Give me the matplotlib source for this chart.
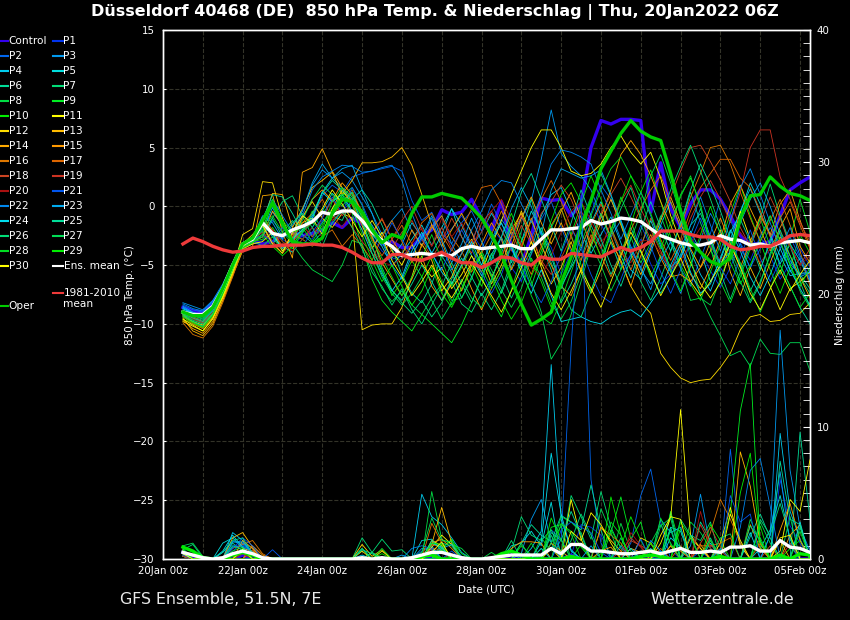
import pandas as pd
import matplotlib
matplotlib.use('Agg')
import matplotlib.pyplot as plt
import matplotlib.dates as mdates
from matplotlib.lines import Line2D
from matplotlib.ticker import MultipleLocator

times = pd.date_range('2022-01-20 12:00', periods=64, freq='6h')
label_days = pd.date_range('2022-01-20', '2022-02-05', freq='2D')
grid_days = pd.date_range('2022-01-20', '2022-02-05', freq='1D')

# 850 hPa temperature, 6-hourly
control_temp = [-8.6,-8.9,-9,-8.2,-7,-5.2,-3.4,-3,-3.2,-3,-2.5,-2.2,-2.5,-2.3,-2,-1.4,-1.8,-1,-1.5,-2,-3.2,-3,-3.5,-3.5,-2.5,-2,-0.3,-0.7,-0.5,0.6,-1,-2,0.4,-3.5,-5,-2.5,0.7,0.5,0.6,-0.8,0.2,5,7.3,7,7.4,7.4,7.3,-0.5,3.7,-0.2,-1.8,0.2,1.4,1.4,0.6,-0.8,-2.5,-3.2,-3.2,-3,-0.8,1.4,2,2.5]
oper_temp = [-9,-9.3,-9.3,-8.6,-7,-5,-3.2,-2.7,-1.2,0.3,-1.5,-3,-3.2,-3.2,-2.7,-0.6,0.6,0.4,-0.5,-2,-3.1,-2.4,-2.7,-0.6,0.8,0.8,1.1,0.9,0.7,-0.1,-1,-2.4,-4.1,-6.3,-8.3,-10.1,-9.6,-9,-6.5,-4.3,-1.7,0.5,3.2,4.7,6.2,7.3,6.4,5.9,5.6,2.8,-0.4,-3,-3.9,-4.7,-5,-4.4,-1,0.9,1,2.5,1.7,1.1,0.9,0.5]
mean_temp = [-9,-9.2,-9.2,-8.5,-7,-5,-3.2,-2.8,-1.4,-2.3,-2.5,-2,-1.7,-1.3,-0.5,-0.7,-0.4,-0.4,-1.2,-2.2,-2.9,-3.4,-4.2,-4.1,-4,-4.1,-4.1,-4.2,-3.6,-3.4,-3.6,-3.5,-3.4,-3.3,-3.6,-3.6,-2.8,-2,-2,-1.9,-1.8,-1.2,-1.5,-1.3,-1,-1.1,-1.3,-1.9,-2.5,-2.8,-3.1,-3.3,-3.3,-3.1,-2.5,-2.8,-2.9,-3.3,-3.2,-3.4,-3.1,-3,-2.9,-3.1]
clim_temp = [-3.2,-2.7,-3,-3.4,-3.7,-3.9,-3.8,-3.5,-3.4,-3.4,-3.3,-3.3,-3.3,-3.2,-3.3,-3.3,-3.5,-3.9,-4.4,-4.8,-4.8,-4.1,-4.1,-4.5,-4.6,-4.3,-3.9,-4.4,-4.8,-4.8,-5.2,-4.8,-4.3,-4.4,-4.8,-5,-4.3,-4.5,-4.5,-4,-4.1,-4.2,-4.3,-3.9,-3.5,-3.8,-3.5,-3,-2.1,-2.1,-2.1,-2.4,-2.6,-2.6,-2.8,-3.4,-3.7,-3.6,-3.4,-3.4,-3,-2.5,-2.4,-2.5]

p1_temp = [-8.8,-9.2,-9.6,-8.8,-7.2,-5.4,-3.4,-3.2,-2.9,-2.2,-2.8,-3.4,-2.5,-2.8,-1.2,-1.5,-0.4,0.5,-1.2,-2.6,-3.8,-4.5,-4.2,-3.5,-2.9,-1.5,-2.8,-1.9,-0.8,-2.2,-3.6,-1.8,-2.9,-5.2,-6.4,-4.1,-2.2,-3.5,-5.8,-3.9,-1.2,0.8,-1.5,-3.2,-5.1,-4.2,-2.8,-4.9,-6.6,-5.8,-4.2,-2.6,-3.8,-5.5,-6.9,-5.2,-3.1,-4.6,-2.5,-4.2,-6.2,-4.9,-3.6,-5.1]
p2_temp = [-8.4,-8.8,-9,-8.2,-6.9,-5,-3.2,-2.8,-2.6,-1.2,-2.2,-2.9,-2.3,-1.1,0.9,1.8,1.2,2.5,2.8,3,3.2,3.4,3,0.5,-1.2,-0.5,-2.3,-3.2,-1.4,-0.4,-2.1,0.2,-1.5,-2.8,-0.9,-2.6,-1.1,0.4,-1.8,-3.9,-2.2,-0.6,1.8,0.6,-1.4,-3.6,-5.2,-3.4,-1.6,-3.1,-5.3,-6.8,-4.4,-2.3,0.6,-1.1,-3.5,-5.2,-3.6,-1.8,-3.2,-4.9,-5.8,-5.6]
p3_temp = [-8.2,-8.5,-8.8,-8,-6.6,-4.8,-3.1,-2.6,-1.8,-0.5,-1.6,-2.4,-0.4,1.8,3.1,2.4,2.9,2.2,0.8,-0.6,-2.4,-1.2,-0.2,-2.1,-3.3,-1.9,-0.8,-3.2,-4.8,-3.1,-0.9,-2.8,-1.1,-2.4,-1,0.5,4,8.2,4.5,3.4,2.6,1.4,-0.8,-2.6,-1.2,-3.8,-5.2,-7.1,-4.2,-5.6,-7.4,-5.1,-2.8,-0.6,-2.2,-4.6,-3.2,-5.3,-2.6,-0.8,-2.9,-5.6,-4.4,-6.2]
p4_temp = [-8.6,-9.1,-9.4,-8.6,-7,-5.1,-3.3,-2.9,-2.1,-0.1,-1.8,-2.7,-2,-0.8,1.2,2.4,1.6,0.8,-0.4,-1.6,-3,-4.4,-3.2,-1.4,-2.6,-4,-2.4,-0.2,-1.6,-3.4,-2.2,-0.6,-2,-3.6,-5.2,-3.8,-0.8,1,1.6,-0.4,-2.2,-4,-2.4,-0.9,-3.1,-5.4,-6.2,-3.9,-1.6,0.4,-1.8,-3.8,-5.8,-7.2,-5,-2.8,-0.4,1.5,-0.6,-2.4,-4.2,-5.9,-5.7,-5.6]
p5_temp = [-9.4,-9.8,-10.2,-9.2,-7.4,-5.4,-3.6,-3.2,-1.4,-2.6,-3.4,-3.9,-2.8,-1.8,-0.4,1.1,0.4,1.2,-0.6,-2.4,-3.4,-5.1,-4,-2.8,-1.6,-3.3,-1.8,-0.2,-2.6,-4.2,-5.9,-4.1,-2.6,-4.8,-3,-0.4,-2.1,-4.3,-6.8,-5.2,-3.6,-1.4,0.4,-2,-4.2,-6.1,-3.4,-1.2,-3.4,-5.2,-4.4,-2.1,-3.8,-6.4,-4.6,-2.2,-0.6,2,0.2,-2.5,-4.9,-3.2,-4.6,-6.4]
p6_temp = [-9.2,-9.6,-9.9,-9,-7.3,-5.3,-3.4,-3,-1.6,-3.2,-2.2,-1.2,-2.4,-3.1,-2.2,-0.8,-1.2,0.6,1.4,0.2,-1.6,-3.6,-5.8,-7.4,-8.2,-6.6,-4.2,-5.6,-7.8,-6,-4.1,-5.8,-7.4,-5.2,-3,-1.2,-3.2,-5.4,-8.2,-6.6,-4.6,-1.6,-3.4,-5.8,-4,-1.8,-3.9,-5.8,-7.4,-6,-4.1,-1.6,-0.6,-2.8,-5.2,-3.1,-1.1,-3,-5.4,-2.9,-0.9,-3.4,-5.8,-7]
p7_temp = [-9,-9.4,-9.7,-8.8,-7.1,-5.2,-3.3,-2.9,-2.4,-1,0.4,0.9,-0.8,-2.6,-1.4,-0.2,0.9,1.6,0.1,-2.4,-5.2,-7.1,-8.2,-9.1,-8,-9.4,-8.2,-6.4,-8.3,-9,-7.4,-8.8,-7.2,-4.6,-2.1,0.6,-2.4,-4.8,-7,-5,-2.6,0.4,2.8,0.9,-1.4,-4.2,-6.4,-8,-6.1,-3.8,-1.6,1.2,-1.4,-3.6,-5.6,-7.9,-5.6,-3.3,-1,1.9,-0.8,-3.1,-6,-7.4]
p8_temp = [-8.9,-9.3,-9.5,-8.7,-7,-5.2,-3.4,-2.9,-3.4,-2.6,-3.8,-3.2,-4.4,-5.4,-5.9,-6.4,-5,-2.9,-3.2,-5.2,-7,-8.1,-7.2,-8.4,-9.2,-7.8,-6.6,-8,-7.8,-6.2,-3.8,-5.4,-7.1,-8.6,-7,-4.4,-6,-8.2,-9.6,-8.1,-5.8,-3.2,-5,-7.2,-5.4,-2.6,-4.8,-3.1,-0.8,-3,-5.2,-8,-7.8,-8.4,-6.2,-3.8,-5.6,-8,-6.4,-4.2,-2.1,-5,-7.2,-8.6]
p9_temp = [-9.1,-9.6,-10,-9,-7.3,-5.3,-3.3,-3,-2.8,-1.8,-3,-3.6,-2.2,-0.4,-2.1,-0.6,0.8,-0.6,-3.4,-6.2,-8,-9,-9.8,-10.6,-9.2,-10,-10.8,-11.6,-10.1,-8.2,-6,-7.9,-9.4,-7.1,-4.4,-6.8,-4.2,-1.8,-0.2,-2.4,-5,-7.2,-4.8,-2.2,0.8,-1.2,-3.8,-6,-4.2,-2,1,2.4,0.2,-3.6,-6.4,-8.2,-6,-3.6,-1,-3.4,-5.8,-2.8,0.6,-2.2]
p10_temp = [-9.6,-10,-10.4,-9.4,-7.6,-5.6,-3.7,-3.1,-2.4,-3.4,-4.2,-3.4,-2,-1.2,-0.6,0.4,1.2,0.4,-1.4,-3.4,-5.4,-7.6,-6.4,-4.6,-6,-4.2,-6.4,-8.4,-7,-5,-6.8,-4.4,-2.6,-0.6,-2.8,-4.6,-6.4,-8.6,-5.8,-2.4,0.2,2.6,0.6,-1.8,-4,-1.6,1.2,3.1,0.4,-2.6,-5,-6.6,-8,-5.6,-3.2,-0.6,1.8,-0.8,-3,-5.4,-7.4,-5.2,-2.4,-4]
p11_temp = [-9.8,-10.2,-10.6,-9.6,-7.8,-5.8,-3.6,-3.2,-3,-2.2,-3.8,-2.6,-1.4,-1,-2.4,-0.2,1.4,0.2,-1.6,-3.6,-2.2,-3.8,-5,-3.2,-4.9,-6,-5.2,-7,-5.8,-4.2,-5.6,-3.4,-1.2,1,3,5,6.5,6.5,5,3,2.6,2.8,3.6,5,6,4.6,3.6,4.6,2.4,-0.8,-3,-4.8,-6.6,-7.8,-6.5,-3.8,-0.4,-2.8,-5,-6.8,-8.8,-7,-6.4,-5.6]
p12_temp = [-9.3,-9.8,-10.1,-9.2,-7.5,-5.4,-2.4,-1.9,2.1,2,-1,-3.2,-0.9,0.4,-1,-1.8,-0.6,-1,-10.5,-10.1,-10,-10,-8.6,-6,-3.2,-4.6,-7.2,-6,-4,-2.8,-4.4,-6.6,-5,-2.6,-0.4,-2.4,-4.8,-6.6,-5.2,-3,-5.6,-7.4,-5.4,-3,-4.6,-6.8,-8.2,-9.1,-12.5,-13.7,-14.6,-15,-14.8,-14.7,-13.7,-12.5,-10.5,-9.4,-9.2,-9.8,-9.7,-9.2,-9.1,-8.2]
p13_temp = [-9.5,-10.6,-11,-10,-8,-5.8,-3.2,-2.4,-1.4,1.1,1,-1.8,-0.2,1.6,2.2,2.9,1,2.2,3.7,3.7,3.8,4.2,5,3.5,1,-1.6,-3.4,-2,-0.6,-2.2,-4.2,-6,-4.4,-2,-0.6,-3,-5,-2.6,-0.4,1.2,-1,-3.4,-1.4,0.6,-1.6,-4,-5.8,-3.6,-1.2,0.8,-1.4,-3.6,-5.2,-3.8,-2,-5.6,-7.6,-5.2,-7,-4.8,-2.6,-4.2,-6,-7.8]
p14_temp = [-9.7,-10.4,-10.8,-9.8,-8,-5.9,-3.8,-3.4,0.9,1,-2.2,-4.4,2.9,3.3,4.9,3,1.6,0.4,-0.8,-2.6,-4.8,-6.2,-7.6,-6.2,-4.2,-6.8,-8,-6.6,-5,-7,-8.8,-7,-5.4,-3.4,-1,0.8,-1.4,-3.2,-1.4,-3.6,-5.4,-3.2,-0.9,1.4,4.4,5.6,4.4,2.6,0.4,-1.6,-3.6,-5.8,-7,-5.2,-2.8,0.2,1.8,-0.2,-2,-3.8,-1.8,-0.2,-3.4,-4.8]
p15_temp = [-9.2,-9.9,-10.3,-9.4,-7.6,-5.5,-3.5,-3,-2.6,-0.4,-1.6,-2.4,-1,0.6,1.4,0.5,2,1,-0.4,-2.2,-1.1,-2.8,-4.2,-2,-3.4,-1.6,-3,-5.2,-7.2,-5,-3.2,-1.4,-2.8,-5.4,-3.6,-1,-3.4,-5,-6.8,-7.6,-5.4,-2.8,-0.6,-2.6,-4.8,-6.8,-4.2,-2.4,-4.4,-6,-5.8,-6.4,-5.2,-3,-1,-3.2,-5.2,-3,-0.8,-2.4,0.2,1.4,-1.2,-3.4]
p16_temp = [-9.9,-10.9,-11.2,-10.2,-8.2,-6,-3.6,-3.1,-1.2,-2,-3.6,-2.4,-2.8,-3.4,-2.6,-2,-3.4,-2.4,-3.4,-4.6,-2.6,-1.2,-3,-4.8,-3.4,-1.8,-0.8,-2.6,-3.8,-5.6,-4,-2.4,-0.4,-2.2,-4,-5.8,-3.4,-1.6,-0.2,-2.6,-4.6,-2.4,-4.2,-6,-4,-2,-0.2,1.4,2.6,0.4,-1.8,0.8,2.8,5,5.2,3.6,1.2,-1,-3,-1.2,0.6,-1.6,-3.8,-6.8]
p17_temp = [-9.4,-10,-10.4,-9.4,-7.4,-5.4,-3.4,-2.8,-0.9,-2,-3.4,-2.6,-1.4,-0.6,0.6,-1,0.4,1.4,-0.6,-2.8,-4.2,-2.8,-1.6,-3.2,-1.4,-0.6,-2.4,-3.8,-2,-0.2,1.6,1.8,0.2,-1.8,-3.4,-1.2,0.6,2.2,0.4,-1.8,-3.4,-1.6,0.2,-1.8,-3.8,-5.4,-3.4,-1,-2.8,-4.6,-2.8,-0.4,1.6,2.8,4,4,2.4,1.6,-0.4,-2.6,-1,0.4,-1.6,-3.6]
p18_temp = [-8.9,-9.4,-9.8,-9,-7.2,-5.2,-3.2,-2.8,-1.6,-3,-4,-3,-2,-1.4,-0.4,-1.2,-0.4,-1.8,-3,-4,-5,-3.6,-2.2,-1.2,-2.8,-4.4,-3,-1,-2.6,-4,-1.4,-0.4,-2,-3.8,-1.6,-3.2,-0.6,0.4,1.8,0.6,-1.4,-3,-0.6,1,2.4,0.8,-1,-2.8,-1,0.8,3,5,5.2,3.8,2.2,0.4,-1.8,-3.4,-1.4,0.8,-1,-3.4,-5,-3.6]
p19_temp = [-9,-9.5,-9.9,-9,-7.2,-5.3,-3.4,-2.9,-2.2,-3.1,-3.6,-2.6,-1.6,-2.6,-1,0.6,-0.8,0.2,-1.6,-2.4,-1,-2.8,-1.2,0,-2,-3.4,-1.8,-3.6,-5,-3.2,-0.8,-2.4,-4.2,-2.6,-0.8,-2.4,-4.6,-5.8,-4.4,-2.6,-0.4,-2,-3.6,-1.4,0.4,1.8,-0.2,-2,-3.8,-5.4,-3.2,-1,0.8,2.2,0.6,-1.4,1.2,5,6.5,6.5,2.5,0.6,-1.4,-3]
p20_temp = [-9,-9.6,-10,-9,-7.2,-5.2,-3.3,-3,-2.6,-2,-3,-3.8,-2.8,-1.8,-2.6,-0.8,-1.8,-0.4,-2,-3.6,-4.8,-5,-4.4,-3.2,-1.8,-3.4,-1,-2.6,-1.4,-3.2,-2.2,-0.4,0.6,-1.2,-3.2,-5.2,-6,-4.2,-2.2,-0.4,0.4,-1.2,-3,-2.2,-3.8,-4.8,-3,-2.8,-4,-5.4,-4.6,-3.2,-1.8,-3.4,-4.6,-3.6,-2.2,-3.4,-4.8,-3.6,-2.2,-3.4,-5,-4.2]
p21_temp = [-8.7,-9.2,-9.6,-8.8,-7.1,-5.1,-3.2,-2.9,-2.4,-3,-1.8,-2.8,-3.4,-2.2,-1,0.8,-0.6,1.6,0.2,-1.8,-3.2,-1.4,-2.8,-4.2,-2.6,-4,-5.4,-3.6,-2,-3.6,-5.6,-7.4,-5.8,-3.4,-5,-6.8,-8.2,-6.4,-4,-1.8,-3.6,-5.8,-7.6,-8.2,-6.2,-4,-1.6,-3.4,-5.6,-7.4,-5.4,-3,-1,-3.2,-5.2,-6.6,-4.4,-2,-4.4,-6.4,-4.6,-2.6,-4.4,-6.2]
p22_temp = [-8.3,-8.7,-8.9,-8.1,-6.7,-4.9,-3.2,-2.6,-1,0.6,-0.8,-2.2,-0.8,1.4,2.5,3,3.5,3.4,2.9,3,3.3,3.5,2.2,-0.6,-2.8,-1,-3.4,-5.4,-4,-2,-0.4,1.4,2.2,2,0.2,-1.4,1,3.6,4.8,4.6,4.2,3.6,1.4,-0.6,-2.8,-0.8,1.2,-0.8,-3.2,-5.6,-3.6,-1.6,0.8,-1.6,-3.8,-1.2,1.6,3.2,1,-1.4,-3.6,-1.8,-4.2,-5.6]
p23_temp = [-8.5,-9,-9.3,-8.5,-6.9,-5,-3.1,-2.7,-0.8,-1.4,-2.8,-1.6,-0.4,2,3.6,2.4,3.2,3.5,1.4,-0.6,-3,-5,-6.2,-4.2,-2.6,-0.8,-2.8,-4.8,-3.2,-1,-3,-4.6,-2.6,-0.2,1.6,0,-2.4,1.4,3.2,2.8,2.4,2.6,3.1,1,-1.2,-3.4,-5.4,-6.6,-4.6,-3,-4.4,-2.4,-0.2,-2.6,-5,-3.8,-1.4,0.6,2,0,-2.4,-4.6,-6,-5.6]
p24_temp = [-8.7,-9.1,-9.4,-8.6,-7,-5,-3.2,-2.8,-1.4,-2.4,-3.6,-2.8,-2,-1,1.2,0.4,1,-0.4,-2,-4,-5.8,-7.2,-6,-3.8,-2.2,-4,-5.6,-6.6,-5,-3,-5,-3,-1.4,-3.4,-5.6,-7.4,-5.4,-7.6,-9.8,-9.6,-9.4,-9.8,-10,-9.4,-9,-8.8,-9.4,-8.2,-7,-5,-3.2,-5.6,-7.4,-6.6,-4.4,-2,-3.8,-6,-7.6,-5.8,-3.6,-5.4,-7,-8.4]
p25_temp = [-9.1,-9.5,-9.8,-8.9,-7.2,-5.2,-3.4,-2.9,-1.2,1,0.8,-0.6,-2.2,-0.6,1.1,2.2,1.4,0.6,-1.4,-3.4,-5.6,-7.2,-8,-6.6,-5,-6.4,-8,-6.2,-4.4,-6,-7.6,-6.2,-4,-1.6,1.2,2.8,0.6,-1.6,-3.8,-1.4,1.4,-0.8,-2.8,-5,-6.8,-4.4,-2,0.4,-1.8,-3.8,-1.4,1.4,3.6,1.8,-0.4,-2.8,-5,-7.2,-5.4,-3,-5,-6.8,-8.6,-10]
p26_temp = [-9.2,-9.7,-10,-9.1,-7.3,-5.3,-3.5,-3,-2.6,-1,-2.6,-1.4,-0.6,-1.8,-3.4,-1.4,-0.4,-1.8,-3.6,-5.6,-6.8,-8.4,-7,-8.8,-10,-8.4,-6.8,-4.8,-6.6,-8.2,-6.2,-4,-5.8,-7.8,-6,-4,-1.8,-4,-6.6,-8.8,-9.4,-7.2,-4.8,-2.4,-0.2,1.6,-1,-3.2,-1,1.4,3.4,5.2,3,0.6,-1.8,-4,-6.4,-8.2,-6.6,-4,-2,-4.2,-6.4,-8.6]
p27_temp = [-9.3,-9.8,-10.2,-9.2,-7.5,-5.4,-3.5,-3.1,-1.8,0.2,-1.6,-2.8,-1.2,0.6,1.8,1,0,1.2,-1,-4,-6,-7.4,-8.4,-7.4,-6,-8,-9.6,-8.2,-6.2,-7.8,-8.6,-6.4,-3.6,-1.4,-3.8,-6.4,-9,-13,-11.6,-9.2,-6.4,-3.4,-0.6,-3,-5.4,-2.8,-0.6,2.6,4.4,2,-0.8,-4.4,-7.6,-9.4,-11,-12.7,-12.3,-13.6,-11.3,-12.5,-12.6,-11.6,-11.6,-14]
p28_temp = [-8.8,-9.3,-9.6,-8.7,-7.1,-5.1,-3.3,-2.9,-2,-0.8,-2.2,-3.2,-2.2,-1.4,-2,0.4,1.6,0.8,-1,-3,-4.4,-6,-7.6,-6,-4.4,-2.4,-4.6,-6.8,-5.2,-3.4,-5.2,-7,-5.4,-3.2,-5.2,-7.6,-9.4,-10,-8,-5.6,-3.2,-0.8,1.4,3.2,4.2,2.6,0.6,-1.8,-3.6,-1.4,0.8,2.6,-0.2,-3,-5.2,-3,-4.8,-7,-9,-7,-5,-6.8,-8.6,-7.4]
p29_temp = [-9.4,-9.9,-10.3,-9.3,-7.5,-5.5,-3.5,-3.1,-2.4,0.6,-1.2,-2.2,-1.8,-3,-1.6,-0.4,1,0.2,-2.4,-4.6,-6.4,-5,-6.8,-8.4,-7.2,-5.2,-7.4,-8.6,-7,-5.4,-4,-6,-8,-9.6,-8.2,-6,-3.8,-1.2,1,2,0.4,-2,-4.4,-2,0.4,2.6,1.2,-0.6,-3,-5.4,-7.2,-5,-2.4,0,-2.4,-4.8,-6.6,-5,-3,-0.8,-3,-5,-6.8,-5.2]
p30_temp = [-9.6,-10.1,-10.6,-9.5,-7.7,-5.6,-3.4,-2.8,-1.6,-3.2,-4,-2.2,-0.8,-1.4,-0.2,1.4,0.2,-1.2,-2.6,-1.2,-2.6,-4.6,-6,-7.6,-6.4,-5,-6.6,-7.8,-6.4,-4.8,-6.2,-7.6,-9,-7.2,-5.2,-3,-5.2,-7.4,-8.8,-7.2,-5.4,-7,-8.6,-6.4,-4.2,-2.2,-3.8,-5.6,-7.6,-6,-4.4,-6.4,-7.6,-6.4,-5,-3.2,-5.2,-7.4,-8.8,-7,-5.4,-7.2,-5.8,-4.6]

# precipitation in mm, only the hours (step index) where something fell
control_rain = {0: 0.5, 1: 0.2, 6: 0.3, 25: 0.2, 39: 0.3, 60: 0.2}
oper_rain = {0: 0.9, 1: 0.6, 2: 0.1, 5: 0.3, 6: 0.5, 7: 0.3, 24: 0.2, 25: 0.3, 32: 0.4, 33: 0.6, 34: 0.3, 39: 0.2, 46: 0.2, 47: 0.3, 48: 0.2, 54: 0.2, 60: 0.3, 62: 0.4, 63: 0.3}
mean_rain = {0: 0.5, 1: 0.3, 2: 0.1, 4: 0.1, 5: 0.4, 6: 0.6, 7: 0.4, 8: 0.1, 18: 0.1, 20: 0.1, 23: 0.1, 24: 0.3, 25: 0.5, 26: 0.5, 27: 0.3, 28: 0.1, 31: 0.1, 32: 0.2, 33: 0.3, 34: 0.3, 35: 0.3, 36: 0.3, 37: 0.8, 38: 0.4, 39: 1.1, 40: 1.1, 41: 0.6, 42: 0.6, 43: 0.5, 44: 0.4, 45: 0.4, 46: 0.5, 47: 0.6, 48: 0.4, 49: 0.6, 50: 0.8, 51: 0.5, 52: 0.5, 53: 0.6, 54: 0.5, 55: 0.9, 56: 0.9, 57: 1.0, 58: 0.6, 59: 0.6, 60: 1.4, 61: 0.9, 62: 0.8, 63: 0.5}
p1_rain = {0: 0.4, 5: 1, 6: 1.1, 39: 0.3, 40: 2.6, 41: 2.4, 42: 1.8, 43: 0.2, 49: 0.7, 60: 6, 61: 2.5, 62: 1.2}
p2_rain = {0: 0.3, 5: 0.6, 6: 1.2, 7: 0.8, 24: 0.6, 25: 1, 36: 0.3, 37: 2.2, 38: 1.5, 39: 16, 40: 27.5, 41: 6, 42: 1.2, 45: 1.2, 46: 4.8, 47: 6.8, 48: 2.8, 52: 0.6, 55: 8.3, 56: 1}
p3_rain = {0: 0.2, 4: 0.5, 5: 1.3, 6: 1.2, 7: 0.4, 24: 0.8, 25: 0.7, 34: 0.4, 35: 3, 36: 4.5, 37: 1.2, 46: 0.6, 51: 1, 52: 4.9, 53: 0.8, 59: 1.8, 60: 17.3, 61: 6.7, 62: 2.4, 63: 0.6}
p4_rain = {0: 0.4, 5: 2, 6: 1.4, 7: 0.3, 18: 0.3, 24: 4.9, 25: 3.2, 26: 2.6, 27: 1.6, 28: 0.5, 35: 0.8, 36: 2.1, 37: 14.7, 38: 3, 39: 0.7, 48: 0.6, 53: 1.2, 60: 9.5, 61: 3.6, 62: 1.5}
p5_rain = {0: 0.3, 4: 1.2, 5: 1.6, 6: 0.8, 19: 0.5, 24: 1.4, 25: 1.5, 26: 0.6, 33: 1, 34: 1.2, 35: 2.1, 36: 1, 37: 4.3, 47: 0.8, 49: 2.4, 50: 2.1, 58: 0.8, 59: 2.2, 60: 4.8, 61: 1.5}
p6_rain = {0: 0.2, 5: 1.2, 6: 0.6, 18: 0.8, 25: 0.9, 34: 1.2, 35: 2.6, 36: 1.8, 37: 1.3, 38: 3.3, 39: 2.8, 40: 2.2, 41: 5.6, 42: 2.2, 49: 3.5, 52: 2.8, 53: 1.4, 57: 1.7, 58: 3.4, 59: 1.6, 62: 9.6, 63: 3}
p7_rain = {0: 0.7, 1: 1.1, 2: 0.1, 18: 1.6, 19: 0.5, 20: 1.5, 21: 0.6, 22: 0.7, 33: 0.6, 34: 3.2, 35: 1.8, 36: 1.4, 37: 2.2, 38: 0.5, 39: 4.8, 40: 3.2, 41: 1.5, 42: 5.1, 43: 2.4, 44: 0.8, 50: 3, 51: 1.8, 52: 1.4, 53: 2.8, 58: 3, 59: 1.8, 60: 4.2, 61: 1.6}
p8_rain = {0: 0.5, 6: 0.4, 25: 5.1, 26: 1.5, 27: 1.1, 28: 0.8, 31: 0.5, 36: 1.6, 37: 0.6, 38: 3.2, 39: 2.8, 40: 2, 44: 2.7, 45: 0.6, 47: 1.2, 48: 2.6, 49: 1.2, 51: 2.8, 52: 2, 53: 0.8, 57: 3, 58: 1.2}
p9_rain = {0: 0.3, 5: 0.6, 6: 0.9, 26: 0.9, 27: 1.4, 28: 0.4, 34: 1, 35: 0.3, 37: 2.4, 38: 2.6, 39: 2.1, 40: 0.9, 43: 2, 44: 4.7, 45: 1.5, 46: 2.8, 49: 3.6, 50: 0.8, 54: 0.6, 55: 3.5, 56: 11.2, 57: 14.8, 58: 0.9}
p10_rain = {0: 0.4, 6: 0.6, 20: 0.4, 26: 0.7, 27: 1.5, 36: 0.8, 40: 1.1, 42: 0.4, 43: 2.2, 44: 0.9, 45: 3.2, 46: 1.4, 50: 2.3, 53: 2.6, 54: 1.4, 58: 2.5, 61: 0.8, 62: 1.4}
p11_rain = {0: 0.2, 6: 0.7, 18: 0.6, 20: 0.6, 25: 0.9, 26: 1.8, 27: 1.1, 37: 0.8, 39: 4.5, 40: 1.5, 48: 1.2, 49: 3.1, 50: 11.3, 51: 1.8, 52: 0.8, 54: 1.2, 55: 3.9, 56: 1, 60: 0.6, 61: 4.5, 62: 3.6, 63: 7.5}
p12_rain = {0: 0.5, 1: 0.2, 6: 0.8, 7: 0.6, 18: 1.1, 19: 0.2, 20: 0.7, 25: 1.4, 26: 1, 42: 2.4, 43: 1.4, 44: 0.6, 46: 1.6, 47: 1.2, 51: 1.6, 52: 0.8}
p13_rain = {0: 0.6, 5: 1.6, 6: 2, 7: 0.9, 8: 0.1, 25: 1.1, 26: 3.9, 27: 1.2, 37: 1.2, 38: 0.6, 45: 0.8, 46: 0.5, 49: 1, 56: 8.1, 57: 5.5, 58: 1.2, 60: 1.4}
p14_rain = {0: 0.9, 1: 0.6, 6: 1.4, 7: 0.8, 33: 0.8, 34: 1.3, 35: 1.3, 36: 1.2, 42: 0.6, 43: 0.9, 49: 1, 50: 0.6, 61: 1.8, 62: 2.6}
p15_rain = {0: 0.7, 7: 1, 8: 0.3, 25: 1.2, 26: 1.5, 27: 0.8, 47: 1.2, 52: 1.1, 57: 2.6, 58: 0.8, 60: 2.2, 61: 4.2, 62: 1.4}
p16_rain = {0: 0.6, 5: 0.8, 6: 1.1, 7: 1.4, 8: 0.4, 25: 2.7, 26: 1.2, 42: 2.4, 43: 1.8, 44: 1.2, 53: 2, 54: 4.5, 55: 3, 56: 1.2}
p17_rain = {0: 0.4, 7: 0.7, 25: 1.1, 26: 0.9, 48: 0.8, 50: 1, 52: 1, 53: 1, 54: 1.2, 55: 1.6, 58: 1.2}
p18_rain = {0: 0.3, 6: 0.5, 25: 0.8, 26: 0.7, 45: 1.4, 46: 1, 47: 0.6, 52: 1.2, 53: 2.4, 54: 0.9, 59: 1}
p19_rain = {0: 0.3, 6: 0.6, 25: 0.6, 27: 0.4, 44: 0.6, 45: 1.6, 46: 0.9, 52: 2.6, 53: 1, 54: 0.6, 61: 1.2}
p20_rain = {0: 0.2, 6: 0.4, 24: 0.2, 25: 0.6, 45: 2, 46: 1, 52: 3.6, 53: 0.8}
p21_rain = {0: 0.3, 5: 0.8, 6: 1.6, 7: 1, 9: 0.7, 27: 0.6, 38: 2.2, 39: 2.8, 40: 2.4, 41: 2, 42: 0.5, 46: 1.5, 55: 4.8, 56: 2.8, 57: 3.4}
p22_rain = {0: 0.5, 5: 0.9, 6: 1, 7: 0.5, 23: 0.8, 24: 1, 25: 0.8, 33: 0.4, 38: 1.5, 44: 1, 47: 1.4, 48: 0.6, 56: 2.4, 57: 6.7, 58: 7.6, 59: 4}
p23_rain = {0: 0.6, 5: 1.3, 6: 1.3, 7: 0.5, 22: 0.3, 26: 0.8, 27: 1.1, 28: 0.2, 36: 0.8, 41: 1, 48: 3, 49: 2, 50: 2.4, 54: 0.8, 59: 1.8, 60: 6.6, 61: 1}
p24_rain = {0: 0.4, 4: 0.6, 5: 1.8, 6: 0.9, 25: 1.2, 26: 0.9, 36: 1.3, 37: 8, 38: 3.4, 39: 0.6, 45: 0.8, 49: 1.6, 50: 0.9, 57: 2, 62: 2.8}
p25_rain = {0: 0.8, 4: 0.5, 5: 1.4, 6: 1.6, 7: 0.4, 18: 0.7, 19: 0.4, 25: 1.4, 26: 0.8, 37: 2, 38: 1.4, 39: 3.6, 40: 1.8, 49: 2.4, 51: 1.8, 60: 7.4, 61: 3, 62: 2.6}
p26_rain = {0: 0.5, 1: 0.3, 5: 1, 6: 0.7, 18: 0.8, 26: 1.2, 27: 1, 33: 1.4, 37: 1.8, 39: 1.4, 40: 3.4, 41: 1.8, 44: 1.6, 49: 2.2, 53: 1.6, 57: 2.5, 58: 1.4, 62: 2.4}
p27_rain = {0: 1, 1: 1.2, 2: 0.2, 19: 0.5, 24: 0.5, 25: 3.1, 26: 1.4, 27: 1.3, 34: 1.2, 37: 1.2, 38: 2.5, 42: 3.8, 43: 2, 48: 2.5, 49: 3.1, 54: 1.6, 55: 1.9, 58: 2.8, 59: 1.2, 61: 3.2}
p28_rain = {0: 0.6, 6: 0.6, 20: 0.8, 26: 0.7, 35: 1.2, 38: 2.7, 39: 1.9, 43: 2.8, 44: 1.8, 48: 3.1, 49: 1.1, 53: 1.4, 58: 1.6, 62: 2.1}
p29_rain = {0: 0.7, 6: 0.8, 25: 1.2, 26: 1.1, 37: 3.1, 38: 1.4, 43: 4.7, 44: 1.8, 47: 1.2, 50: 2.8, 51: 1.6, 56: 5, 57: 8, 58: 1.3}
p30_rain = {0: 0.4, 6: 0.7, 25: 0.5, 26: 1.3, 39: 2.1, 40: 1.4, 41: 3.5, 42: 2.6, 43: 1.2, 48: 1.8, 49: 3.2, 50: 3, 55: 3.4, 56: 1.4, 60: 1.6, 61: 1.8}

member_temps = [p1_temp, p2_temp, p3_temp, p4_temp, p5_temp, p6_temp, p7_temp, p8_temp, p9_temp, p10_temp,
                p11_temp, p12_temp, p13_temp, p14_temp, p15_temp, p16_temp, p17_temp, p18_temp, p19_temp, p20_temp,
                p21_temp, p22_temp, p23_temp, p24_temp, p25_temp, p26_temp, p27_temp, p28_temp, p29_temp, p30_temp]
member_rains = [p1_rain, p2_rain, p3_rain, p4_rain, p5_rain, p6_rain, p7_rain, p8_rain, p9_rain, p10_rain,
                p11_rain, p12_rain, p13_rain, p14_rain, p15_rain, p16_rain, p17_rain, p18_rain, p19_rain, p20_rain,
                p21_rain, p22_rain, p23_rain, p24_rain, p25_rain, p26_rain, p27_rain, p28_rain, p29_rain, p30_rain]

names = ['Control'] + ['P%d' % n for n in range(1, 31)]
colors = ['#3300ee', '#0033ee', '#0066ee', '#0099ee', '#00ccee', '#00dddd', '#00dd99', '#00dd77', '#00dd44', '#00ee22',
          '#00ee00', '#ffff00', '#ffdd00', '#ffbb00', '#ffaa00', '#ff9900', '#dd7700', '#dd6600', '#cc4422', '#cc3322',
          '#aa1111', '#0055ee', '#0088ee', '#00aaee', '#00ddee', '#00dd99', '#00dd77', '#00dd55', '#00dd22', '#00ee00', '#ffff00']
oper_color = '#00cc00'
clim_color = '#ee3a3a'


def rain_series(rain):
    return [rain.get(i, 0) for i in range(len(times))]


fig = plt.figure(figsize=(8.5, 6.2), dpi=100, facecolor='black')
ax = fig.add_axes([163 / 850, 1 - 559 / 620, 647 / 850, 529 / 620], facecolor='black')
ax2 = ax.twinx()

ax.plot(times, control_temp, color=colors[0], lw=2.4, zorder=2)
for temp, rain, col in zip(member_temps, member_rains, colors[1:]):
    ax.plot(times, temp, color=col, lw=0.6, zorder=3)
    ax2.plot(times, rain_series(rain), color=col, lw=0.6, zorder=3)

ax.plot(times, mean_temp, color='white', lw=2.4, zorder=5)
ax.plot(times, oper_temp, color=oper_color, lw=2.4, zorder=6)
ax.plot(times, clim_temp, color=clim_color, lw=2.4, zorder=7)
ax2.plot(times, rain_series(control_rain), color=colors[0], lw=2.4, zorder=2)
ax2.plot(times, rain_series(oper_rain), color='#00ee00', lw=2.4, zorder=5)
ax2.plot(times, rain_series(mean_rain), color='white', lw=2.4, zorder=6)

ax.set_xlim(pd.Timestamp('2022-01-20 00:00'), pd.Timestamp('2022-02-05 06:00'))
ax.set_ylim(-30, 15)
ax2.set_ylim(0, 40)

ax.set_xticks(label_days)
ax.set_xticks(grid_days, minor=True)
ax.xaxis.set_major_formatter(mdates.DateFormatter('%d%b %Hz'))
ax.yaxis.set_major_locator(MultipleLocator(5))
ax2.yaxis.set_major_locator(MultipleLocator(10))
ax2.yaxis.set_minor_locator(MultipleLocator(1))

ax.grid(True, which='major', color='#333328', ls='--', lw=0.8)
ax.grid(True, which='minor', axis='x', color='#333328', ls='--', lw=0.8)
ax.set_axisbelow(True)

ax.tick_params(axis='x', which='both', length=0, colors='white', labelsize=7.4, pad=5)
ax.tick_params(axis='y', direction='in', length=2, color='white', labelcolor='white', labelsize=7.4, pad=6)
ax2.tick_params(axis='y', which='both', direction='in', length=5, color='white', labelcolor='white', labelsize=7.4, pad=5)
for a in (ax, ax2):
    for spine in a.spines.values():
        spine.set_color('white')
        spine.set_linewidth(1)

fig.text(130 / 850, 1 - 295 / 620, '850 hPa Temp. (°C)', color='white', fontsize=7.5, rotation=90, ha='center', va='center')
fig.text(840 / 850, 1 - 295 / 620, 'Niederschlag (mm)', color='white', fontsize=7.5, rotation=90, ha='center', va='center')
fig.text(486 / 850, 1 - 589 / 620, 'Date (UTC)', color='white', fontsize=7.5, ha='center', va='center')
fig.text(435 / 850, 1 - 12 / 620, 'Düsseldorf 40468 (DE)  850 hPa Temp. & Niederschlag | Thu, 20Jan2022 06Z',
         color='white', fontsize=11.55, fontweight='bold', ha='center', va='center')
fig.text(120 / 850, 1 - 599 / 620, 'GFS Ensemble, 51.5N, 7E', color='#e8e8e8', fontsize=11.4, ha='left', va='center')
fig.text(650 / 850, 1 - 599 / 620, 'Wetterzentrale.de', color='#e8e8e8', fontsize=11.4, ha='left', va='center')


# hand placed legend, two columns on the far left
def legend_entry(x, y, label, col, lw=1.5):
    fig.add_artist(Line2D([x / 850, (x + 10) / 850], [1 - y / 620, 1 - y / 620], color=col, lw=lw))
    fig.text((x + 10.5) / 850, 1 - y / 620, label, color='white', fontsize=7.6, ha='left', va='center')


for n, (name, col) in enumerate(zip(names, colors)):
    col_x = 53 if n % 2 else -2
    legend_entry(col_x, 41 + 15 * (n // 2), name, col)
legend_entry(53, 266, 'Ens. mean', 'white')
legend_entry(53, 293, '1981-2010', clim_color)
fig.text(63.5 / 850, 1 - 304 / 620, 'mean', color='white', fontsize=7.6, ha='left', va='center')
legend_entry(-2, 306, 'Oper', oper_color)

fig.savefig('out.png', dpi=100, facecolor='black')
